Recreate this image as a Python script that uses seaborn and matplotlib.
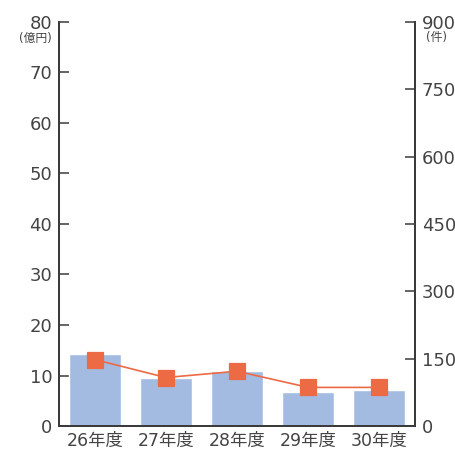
import matplotlib
matplotlib.use("Agg")
import matplotlib.pyplot as plt
import seaborn as sns

years = ["26年度", "27年度", "28年度", "29年度", "30年度"]
amount = [14.3, 9.5, 10.9, 6.7, 7.1]      # 億円 (bars, left axis)
cases = [148, 108, 122, 86, 86]           # 件 (line, right axis)

sns.set_style("white")
plt.rcParams["font.family"] = ["DejaVu Sans", "Noto Sans CJK JP"]

text_col = "#3a3a3a"
fig = plt.figure(figsize=(4.55, 4.5), dpi=100)
ax = fig.add_axes([0.13, 0.0533, 0.782, 0.898])

sns.barplot(x=years, y=amount, ax=ax, color="#a4bbe1", saturation=1, width=0.73)
ax.set_xlim(-0.5, 4.5)
ax.set_ylim(0, 80)
ax.set_yticks(range(0, 81, 10))

ax2 = ax.twinx()
sns.pointplot(x=years, y=cases, ax=ax2, color="#ec6a44", markers="s",
              markersize=11, linewidth=1.2)
ax2.set_ylim(0, 900)
ax2.set_yticks(range(0, 901, 150))
ax2.set_xlim(-0.5, 4.5)

for a in (ax, ax2):
    for s in a.spines.values():
        s.set_color(text_col)
        s.set_linewidth(1.3)
    a.spines["top"].set_visible(False)
    a.tick_params(axis="y", direction="in", length=7, width=1.1, color=text_col,
                  labelsize=13, labelcolor="#444444", pad=5)
    a.set_xlabel("")
    a.set_ylabel("")

# category separators on the bottom axis
ax.set_xticks([0.5, 1.5, 2.5, 3.5])
ax.set_xticklabels([])
ax.tick_params(axis="x", direction="in", length=6, width=1.1, color=text_col)
for i, lab in enumerate(years):
    ax.text(i, -3.0, lab, ha="center", va="center", fontsize=12.5, color="#444444")

ax2.tick_params(axis="y", left=False, right=True, labelleft=False, labelright=True)

fig.text(0.077, 0.93, "(億円)", ha="center", va="top", fontsize=8.5, color="#444444")
fig.text(0.96, 0.93, "(件)", ha="center", va="top", fontsize=8.5, color="#444444")

fig.savefig("out.png", dpi=100)
